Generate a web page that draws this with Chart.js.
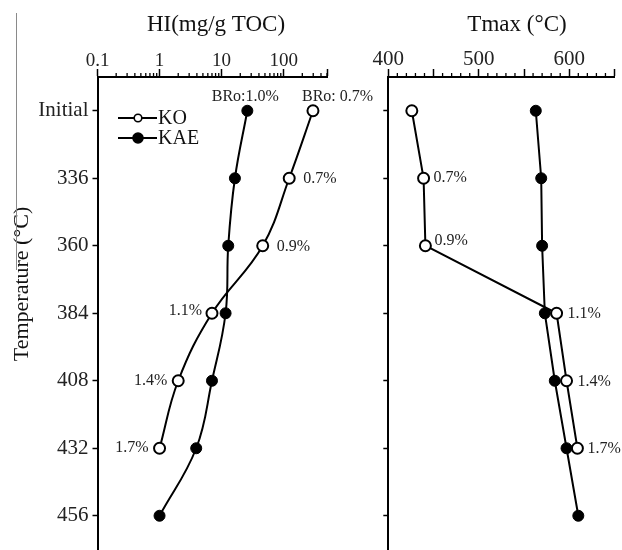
<!DOCTYPE html>
<html>
<head>
<meta charset="utf-8">
<script src="https://cdn.jsdelivr.net/npm/chart.js@4.4.1/dist/chart.umd.min.js"></script>
<style>
  html, body { margin: 0; padding: 0; background: #fff; overflow: hidden; }
  #wrap { position: relative; width: 622px; height: 550px; overflow: hidden; }
  #wrap canvas { position: absolute; left: 0; top: 0; }
  .edge { position: absolute; left: 16px; top: 13px; width: 1px; height: 257px; background: #8a8a8a; }
</style>
</head>
<body>
<div id="wrap">
  <canvas id="hi-chart" width="622" height="557"></canvas>
  <canvas id="tmax-chart" width="622" height="557"></canvas>
  <div class="edge"></div>
</div>
<script>
// categories (pyrolysis temperature)
const temps = ['Initial', '336', '360', '384', '408', '432', '456'];

// HI (mg/g TOC)
const hiKO = [297, 123, 46, 7.0, 2.0, 1.0];
const hiKAE = [26, 16.4, 12.8, 11.6, 7.0, 3.9, 1.0];

// Tmax (°C)
const tmaxKO = [426, 439, 441, 586, 597, 609];
const tmaxKAE = [563, 569, 570, 573, 584, 597, 610];

// maturity labels
const koLabelsHI = ['BRo: 0.7%', '0.7%', '0.9%', '1.1%', '1.4%', '1.7%'];
const kaeLabelsHI = ['BRo:1.0%'];
const koLabelsTmax = ['', '0.7%', '0.9%', '1.1%', '1.4%', '1.7%'];

// axis ticks
const hiMajor = [0.1, 1, 10, 100];
const hiMax = 500;
const tmaxMajor = [400, 450, 500, 550, 600, 650];
const tmaxLabeled = [400, 500, 600];

const SERIF = "'Liberation Serif', 'DejaVu Serif', serif";

const hiMinor = [];
for (let d = 0.1; d < hiMax; d *= 10) {
  for (let k = 2; k <= 9; k++) {
    const v = +(d * k).toPrecision(3);
    if (v <= hiMax) hiMinor.push(v);
  }
}
const tmaxMinor = [];
for (let v = 410; v < 650; v += 10) if (v % 50 !== 0) tmaxMinor.push(v);

const decor = {
  id: 'decor',
  afterDraw(chart, args, opts) {
    const ctx = chart.ctx;
    const xs = chart.scales.x;
    ctx.save();

    // minor ticks on the top axis
    ctx.strokeStyle = '#000';
    ctx.lineWidth = 1.3;
    (opts.minor || []).forEach(v => {
      const px = xs.getPixelForValue(v);
      ctx.beginPath();
      ctx.moveTo(px, xs.bottom);
      ctx.lineTo(px, xs.bottom - 4);
      ctx.stroke();
    });

    // point labels
    ctx.fillStyle = '#222';
    ctx.font = '16px ' + SERIF;
    ctx.textBaseline = 'middle';
    (opts.labels || []).forEach(set => {
      const meta = chart.getDatasetMeta(set.dataset);
      set.text.forEach((t, i) => {
        if (!t) return;
        const pt = meta.data[i];
        const p = set.place[i];
        ctx.textAlign = p.align;
        ctx.fillText(t, pt.x + p.dx, pt.y + p.dy);
      });
    });

    // axis titles
    ctx.fillStyle = '#111';
    (opts.titles || []).forEach(t => {
      ctx.save();
      ctx.font = t.size + 'px ' + SERIF;
      ctx.textAlign = 'center';
      ctx.textBaseline = 'middle';
      ctx.translate(t.x, t.y);
      ctx.rotate(t.rot || 0);
      ctx.fillText(t.text, 0, 0);
      ctx.restore();
    });

    // legend
    if (opts.legend) {
      const lg = opts.legend;
      ctx.font = '20px ' + SERIF;
      ctx.textAlign = 'left';
      ctx.textBaseline = 'middle';
      lg.items.forEach((it, i) => {
        const y = lg.y + i * lg.gap;
        ctx.strokeStyle = '#000';
        ctx.lineWidth = 2;
        ctx.beginPath();
        ctx.moveTo(lg.x, y);
        ctx.lineTo(lg.x + 39, y);
        ctx.stroke();
        ctx.beginPath();
        ctx.arc(lg.x + 20, y, it.filled ? 5 : 3.8, 0, Math.PI * 2);
        ctx.fillStyle = it.filled ? '#000' : '#fff';
        ctx.fill();
        ctx.lineWidth = 1.6;
        ctx.stroke();
        ctx.fillStyle = '#111';
        ctx.fillText(it.text, lg.x + 40, y + 1);
      });
    }
    ctx.restore();
  }
};

function yAxis(width, showLabels) {
  return {
    type: 'category',
    labels: temps,
    offset: true,
    afterFit: s => { s.width = width; s.paddingTop = 0; s.paddingBottom = 0; },
    border: { color: '#000', width: 2 },
    grid: { drawOnChartArea: false, tickLength: 5, tickWidth: 1.5, tickColor: '#000', offset: false },
    ticks: {
      padding: 4,
      color: '#222',
      font: { family: SERIF, size: 21 },
      callback: (v, i) => showLabels ? temps[i] : ''
    }
  };
}

function koSet(data, tension) {
  return {
    label: 'KO', data,
    borderColor: '#000', borderWidth: 2, tension,
    pointRadius: 5.5, pointBorderWidth: 2,
    pointBackgroundColor: '#fff', pointBorderColor: '#000'
  };
}
function kaeSet(data, tension) {
  return {
    label: 'KAE', data,
    borderColor: '#000', borderWidth: 2, tension,
    pointRadius: 5.5, pointBorderWidth: 1,
    pointBackgroundColor: '#000', pointBorderColor: '#000'
  };
}

const common = {
  responsive: false,
  animation: false,
  indexAxis: 'y',
  plugins: { legend: { display: false }, tooltip: { enabled: false } }
};

function topAxis(extra) {
  return Object.assign({
    position: 'top',
    afterFit: s => { s.height = 77; s.paddingLeft = 0; s.paddingRight = 0; },
    border: { color: '#000', width: 2 },
    grid: { drawOnChartArea: false, tickLength: 8, tickWidth: 1.5, tickColor: '#000' }
  }, extra);
}

// HI panel
new Chart(document.getElementById('hi-chart'), {
  type: 'line',
  data: { labels: temps, datasets: [kaeSet(hiKAE, 0.4), koSet(hiKO, 0.4)] },
  options: {
    ...common,
    layout: { padding: { left: 0, top: 0, right: 622 - 327, bottom: 0 } },
    scales: {
      x: topAxis({
        type: 'logarithmic',
        min: 0.1, max: hiMax,
        afterBuildTicks: s => { s.ticks = hiMajor.concat([hiMax]).map(v => ({ value: v })); },
        ticks: {
          padding: -3,
          color: '#222',
          maxRotation: 0,
          font: { family: SERIF, size: 19 },
          callback: v => hiMajor.includes(v) ? String(v) : ''
        }
      }),
      y: yAxis(97.5, true)
    },
    plugins: {
      ...common.plugins,
      decor: {
        minor: hiMinor,
        labels: [
          { dataset: 1, text: koLabelsHI, place: [
            { dx: -11, dy: -14, align: 'left' },
            { dx: 14, dy: 1, align: 'left' },
            { dx: 14, dy: 1, align: 'left' },
            { dx: -10, dy: -2, align: 'right' },
            { dx: -11, dy: 0, align: 'right' },
            { dx: -11, dy: 0, align: 'right' }
          ] },
          { dataset: 0, text: kaeLabelsHI, place: [{ dx: -2, dy: -14, align: 'center' }] }
        ],
        titles: [
          { text: 'HI(mg/g TOC)', x: 216, y: 25, size: 23 },
          { text: 'Temperature (°C)', x: 22, y: 284, size: 22, rot: -Math.PI / 2 }
        ],
        legend: { x: 118, y: 118, gap: 20, items: [{ text: 'KO', filled: false }, { text: 'KAE', filled: true }] }
      }
    }
  },
  plugins: [decor]
});

// Tmax panel
new Chart(document.getElementById('tmax-chart'), {
  type: 'line',
  data: { labels: temps, datasets: [kaeSet(tmaxKAE, 0), koSet(tmaxKO, 0)] },
  options: {
    ...common,
    layout: { padding: { left: 378.3, top: 0, right: 622 - 616.7, bottom: 0 } },
    scales: {
      x: topAxis({
        type: 'linear',
        min: 400, max: 650,
        afterBuildTicks: s => { s.ticks = tmaxMajor.map(v => ({ value: v })); },
        ticks: {
          padding: -3,
          color: '#222',
          maxRotation: 0,
          font: { family: SERIF, size: 21 },
          callback: v => tmaxLabeled.includes(v) ? String(v) : ''
        }
      }),
      y: yAxis(10, false)
    },
    plugins: {
      ...common.plugins,
      decor: {
        minor: tmaxMinor,
        labels: [
          { dataset: 1, text: koLabelsTmax, place: [
            null,
            { dx: 10, dy: 0, align: 'left' },
            { dx: 9, dy: -5, align: 'left' },
            { dx: 11, dy: 1, align: 'left' },
            { dx: 11, dy: 1, align: 'left' },
            { dx: 10, dy: 1, align: 'left' }
          ] }
        ],
        titles: [
          { text: 'Tmax (°C)', x: 517, y: 25, size: 23 }
        ]
      }
    }
  },
  plugins: [decor]
});
</script>
</body>
</html>
